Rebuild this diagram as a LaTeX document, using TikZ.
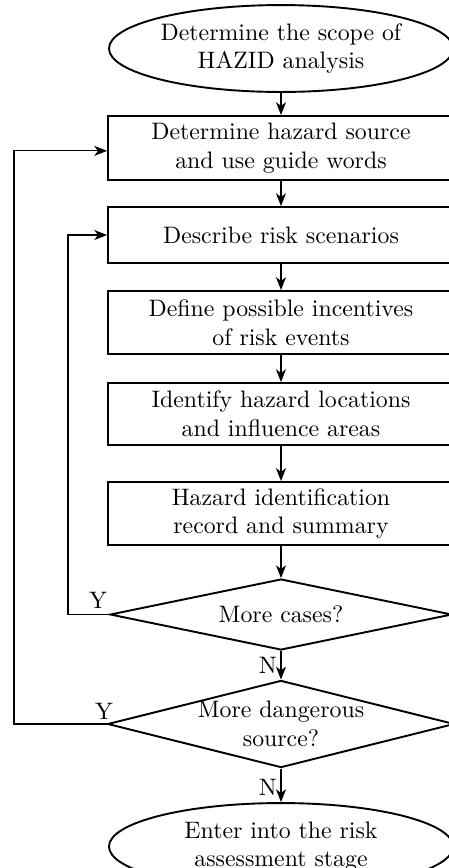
\documentclass[tikz,border=0pt]{standalone}
\usetikzlibrary{shapes.geometric,arrows.meta}
\begin{document}
\begin{tikzpicture}[x=0.42pt,y=-0.42pt,
  every node/.style={font=\normalsize, align=center, inner sep=0pt},
  procbox/.style={draw, line width=0.8pt, rectangle, minimum width=145.3pt},
  termnode/.style={draw, line width=0.8pt, ellipse, minimum width=144.5pt, minimum height=36.5pt},
  decnode/.style={draw, line width=0.8pt, diamond, minimum width=143.6pt},
  flow/.style={line width=0.6pt, -{Stealth[length=5.4pt,width=4.2pt,inset=1.6pt]}},
  back/.style={line width=0.45pt, -{Stealth[length=5.4pt,width=4.2pt,inset=1.6pt]}},
  lab/.style={font=\normalsize}]
\useasboundingbox (0,0) rectangle (449,868);
\clip (0,0) rectangle (449,868);
\node[termnode] (e1) at (281,48.5) {Determine the scope of\\HAZID analysis};
\node[procbox, minimum height=26.9pt] (b1) at (281,148) {Determine hazard source\\and use guide words};
\node[procbox, minimum height=23.5pt] (b2) at (281,235) {Describe risk scenarios};
\node[procbox, minimum height=26.5pt] (b3) at (281,322.5) {Define possible incentives\\of risk events};
\node[procbox, minimum height=26pt] (b4) at (281,414) {Identify hazard locations\\and influence areas};
\node[procbox, minimum height=26.5pt] (b5) at (281,513.5) {Hazard identification\\record and summary};
\node[decnode, aspect=4.82, minimum height=29.8pt] (d1) at (281,614.5) {More cases?};
\node[decnode, aspect=3.98, minimum height=36.1pt] (d2) at (281,724) {More dangerous\\source?};
\node[termnode] (e2) at (281,846.5) {Enter into the risk\\assessment stage};
\draw[flow] (e1) -- (b1);
\draw[flow] (b1) -- (b2);
\draw[flow] (b2) -- (b3);
\draw[flow] (b3) -- (b4);
\draw[flow] (b4) -- (b5);
\draw[flow] (b5) -- (d1);
\draw[flow] (d1) -- node[lab, left, xshift=-1.5pt] {N} (d2);
\draw[flow] (d2) -- node[lab, left, xshift=-1.5pt, pos=0.55] {N} (e2);
\coordinate (c1) at (68,614.5);
\coordinate (c2) at (14,724);
\draw[back] (d1.west) -- (c1) |- (b2.west);
\draw[back] (d2.west) -- (c2) |- ([yshift=-1.2pt]b1.west);
\node[lab] (y1) at (98,600) {Y};
\node[lab] (y2) at (104,711) {Y};
\end{tikzpicture}
\end{document}
